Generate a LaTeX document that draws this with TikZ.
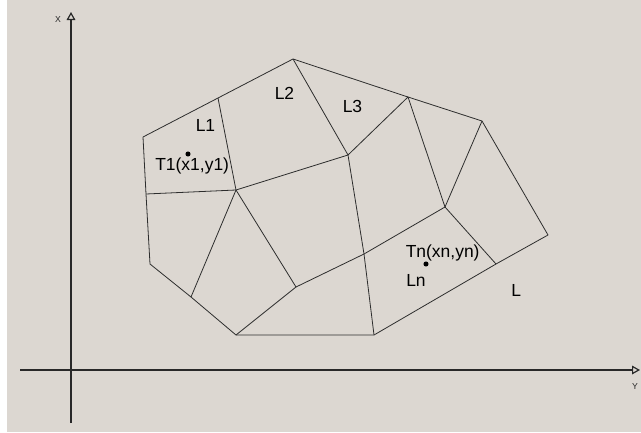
\documentclass[tikz,border=0pt]{standalone}
\usepackage{fontspec}
\setmainfont{Liberation Sans}
\usetikzlibrary{arrows.meta}
\definecolor{bg}{RGB}{220,215,209}
\definecolor{ln}{RGB}{45,45,45}
\definecolor{ax}{RGB}{40,40,40}
\begin{document}
\begin{tikzpicture}[x=0.75pt,y=-0.75pt,
  mesh/.style={draw=ln,line width=0.6pt,line join=round},
  axis/.style={draw=ax,line width=0.9pt,-{Triangle[open,length=6pt,width=6.5pt]}},
  lbl/.style={inner sep=0pt,anchor=base west,font=\fontsize{13.1}{15}\selectfont,text=black},
  axlbl/.style={inner sep=0pt,anchor=base,font=\fontsize{6.5}{7}\selectfont,text=ax},
  dot/.style={fill=black,circle,inner sep=0pt,minimum size=3.8pt}]
\useasboundingbox (0,0) rectangle (641,432);
\fill[bg] (0,0) rectangle (641,432);
\fill[white] (0,0) rectangle (7,432);
% axes
\coordinate (xa0) at (71,423);
\coordinate (xa1) at (71,12);
\coordinate (ya0) at (20,370);
\coordinate (ya1) at (640,370);
\draw[axis] (xa0) -- (xa1);
\draw[axis] (ya0) -- (ya1);
\node[axlbl] (xl) at (58,22.3) {X};
\node[axlbl] (yl) at (635,389) {Y};
% vertices
\coordinate (A) at (143,137);
\coordinate (B) at (218,98);
\coordinate (C) at (293,59);
\coordinate (D) at (408,97);
\coordinate (E) at (482,121);
\coordinate (F) at (548,235);
\coordinate (G) at (496,264);
\coordinate (H) at (374,335);
\coordinate (I) at (236,335);
\coordinate (J) at (191,297);
\coordinate (K) at (150,264);
\coordinate (Lp) at (146,194);
\coordinate (M) at (236,190);
\coordinate (N) at (348,155);
\coordinate (P) at (445,207);
\coordinate (Q) at (296,287);
\coordinate (S) at (364,254);
% outline
\draw[mesh] (A) -- (B) -- (C) -- (D) -- (E) -- (F) -- (G) -- (H) -- (I) -- (J) -- (K) -- (Lp) -- cycle;
% inner edges
\draw[mesh] (B) -- (M);
\draw[mesh] (Lp) -- (M);
\draw[mesh] (M) -- (N);
\draw[mesh] (C) -- (N);
\draw[mesh] (N) -- (D);
\draw[mesh] (N) -- (S) -- (H);
\draw[mesh] (D) -- (P);
\draw[mesh] (E) -- (P);
\draw[mesh] (P) -- (G);
\draw[mesh] (M) -- (J);
\draw[mesh] (M) -- (Q);
\draw[mesh] (Q) -- (I);
\draw[mesh] (Q) -- (S) -- (P);
% labels
\node[lbl] (l1) at (195.5,131.7) {L1};
\node[lbl] (l2) at (274.5,99) {L2};
\node[lbl] (l3) at (342.5,112.3) {L3};
\node[lbl] (t1) at (155,170) {T1(x1,y1)};
\node[lbl] (tn) at (405.5,257.3) {Tn(xn,yn)};
\node[lbl] (lnl) at (406,286) {Ln};
\node[lbl] (ll) at (511,296.7) {L};
\node[dot] (d1) at (188,154) {};
\node[dot] (dn) at (426,264) {};
\end{tikzpicture}
\end{document}
